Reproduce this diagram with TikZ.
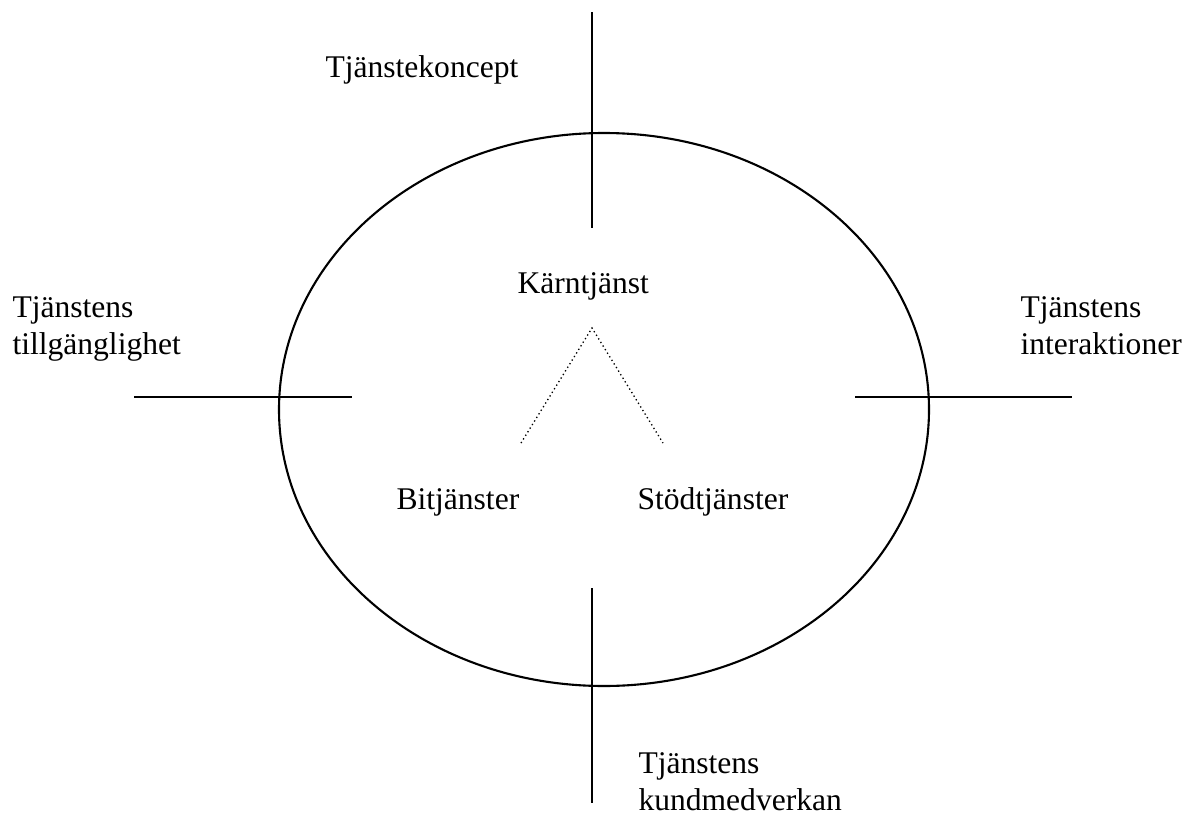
\documentclass[tikz,border=0pt]{standalone}
\usepackage{fontspec}
\setmainfont{Liberation Serif}
\tikzset{
    lbl/.style={inner sep=0pt, anchor=base west, align=left, font=\fontsize{12}{14}\selectfont},
    axisline/.style={line width=0.8pt},
    dotline/.style={line width=0.5pt, dash pattern=on 0.5pt off 1.1pt}
}
\begin{document}
\begin{tikzpicture}[x=0.3802pt, y=-0.3802pt]
    \useasboundingbox (0,0) rectangle (1192,813);

    \draw[axisline] (604,409.5) ellipse (325 and 276.5);

    \coordinate (topA) at (592,12);
    \coordinate (topB) at (592,228);
    \coordinate (botA) at (592,588);
    \coordinate (botB) at (592,803);
    \coordinate (leftA) at (134,397);
    \coordinate (leftB) at (352,397);
    \coordinate (rightA) at (855,397);
    \coordinate (rightB) at (1072,397);

    \draw[axisline] (topA) -- (topB);
    \draw[axisline] (botA) -- (botB);
    \draw[axisline] (leftA) -- (leftB);
    \draw[axisline] (rightA) -- (rightB);

    \node[lbl] (koncept) at (325,77) {Tjänstekoncept};
    \node[lbl] (tillg) at (12,354) {Tjänstens\\tillgänglighet};
    \node[lbl] (inter) at (1020,354) {Tjänstens\\interaktioner};
    \node[lbl] (kund) at (638,810) {Tjänstens\\kundmedverkan};

    \node[lbl] (karn) at (517,293) {Kärntjänst};
    \node[lbl] (bi) at (396,509) {Bitjänster};
    \node[lbl] (stod) at (637,509) {Stödtjänster};

    \coordinate (apex) at (592,328);
    \coordinate (biEnd) at (521,443);
    \coordinate (stodEnd) at (663,443);
    \draw[dotline] (biEnd) -- (apex) -- (stodEnd);
\end{tikzpicture}
\end{document}
